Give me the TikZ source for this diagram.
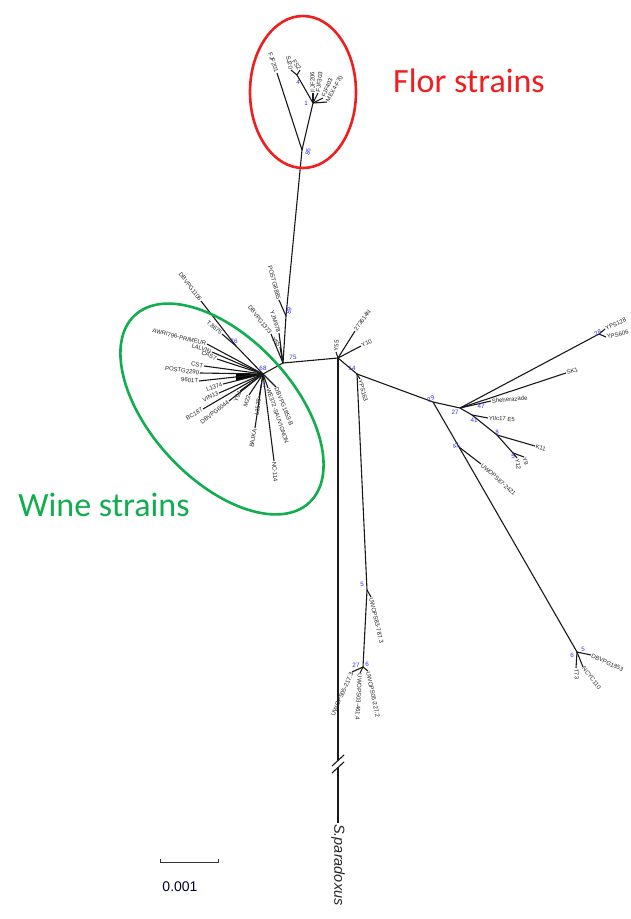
\documentclass[tikz,border=0pt]{standalone}
\usepackage{fontspec}
\usetikzlibrary{calc}
\setmainfont{Liberation Sans}
\newfontfamily\calib{Carlito}
\definecolor{florred}{HTML}{F01E1E}
\definecolor{winegreen}{HTML}{12AD4F}
\definecolor{bsblue}{HTML}{3030F0}
\newcommand\leaffont{\fontsize{6}{7}\selectfont}
\newcommand\bsfont{\fontsize{6.3}{7}\selectfont}
\tikzset{
  br/.style={line width=1.1pt, black!90},
  lf/.style={font=\leaffont, text=black!85, inner sep=0.7pt},
  bs/.style={font=\bsfont, text=bsblue, inner sep=0pt},
  clade/.style={line width=2.6pt},
}
% leaf pointing right: text reads outward from the tip
\newcommand\leafR[5]{\node[lf,anchor=west,rotate=#4] (#2) at #3 {#5};\draw[br] (#1) -- (#2.west);}
% leaf pointing left: text turned to stay upright, ends at the tip
\newcommand\leafL[5]{\node[lf,anchor=east,rotate=#4] (#2) at #3 {#5};\draw[br] (#1) -- (#2.east);}
\begin{document}
\begin{tikzpicture}[x=1pt,y=-1pt]
\useasboundingbox (0,0) rectangle (630,919);
\fill[white] (0,0) rectangle (630,919);

% internal nodes
\coordinate (C) at (338,358);
\coordinate (N75) at (283,363);
\coordinate (A89) at (286,316);
\coordinate (F0) at (302,150);
\coordinate (F1) at (313,103);
\coordinate (F2) at (297,75);
\coordinate (W0) at (263,374);
\coordinate (W1) at (236,346);
\coordinate (N14) at (357,374);
\coordinate (R5) at (367,590);
\coordinate (R6) at (363,667);
\coordinate (N29) at (433,402);
\coordinate (N27) at (460,408);
\coordinate (N41) at (472,415);
\coordinate (N8) at (497,435);
\coordinate (N5b) at (513,453);
\coordinate (N28) at (599,334);
\coordinate (N42) at (459,447);
\coordinate (N6) at (577,652);
\coordinate (Btop) at (338,761);
\coordinate (Bbot) at (338,767);

% backbone
\draw[br] (C) -- (N75);
\draw[br] (N75) -- (A89) -- (F0);
\draw[br] (F0) -- (F1) -- (F2);
\draw[br] (N75) -- (W0);
\draw[br] (W0) -- (W1);
\draw[br] (C) -- (N14) -- (R5) -- (R6);
\draw[br] (N14) -- (N29) -- (N27) -- (N41) -- (N8) -- (N5b);
\draw[br] (N27) -- (N28);
\draw[br] (N29) -- (N42) -- (N6);
\draw[br] (C) -- (Btop);

% flor clade
\leafL{F0}{f1}{(277,73)}{-71}{FJF201}
\leafL{F2}{f2}{(291,70)}{-79}{SJ20}
\leafL{F2}{f3}{(300,70)}{-58}{FS2}
\leafR{F1}{f4}{(313,93)}{92}{FJF206}
\leafR{F1}{f5}{(318,93)}{83}{FJF303}
\leafR{F1}{f6}{(323,98)}{68}{FJF403}
\leafR{F1}{f7}{(327,102)}{61}{MEX4-F70}

% strains near the wine clade
\leafL{A89}{m1}{(279,300)}{-75}{POSTG8885}
\leafL{N75}{m2}{(271,334)}{-52}{DBVPG1373}
\leafL{N75}{m3}{(279,333)}{-72}{YJM978}
\leafL{N75}{m4}{(280,347)}{-52}{Y55}

% wine clade
\fill[black] (W0) -- (236,374) -- (236,381) -- cycle;
\leafL{W1}{w1}{(201,301)}{-53}{DBVPG1106}
\leafL{W1}{w2}{(222,334)}{-40}{T.8675}
\leafL{W0}{w3}{(207,344)}{-14}{AWRI796-PRIMEUR}
\leafL{W0}{w4}{(212,352)}{-18}{LALVIN}
\leafL{W0}{w5}{(217,359)}{-24}{CAS7}
\leafL{W0}{w6}{(204,366)}{-12}{CST}
\leafL{W0}{w7}{(200,373)}{-8}{POSTG2290}
\leafL{W0}{w8}{(199,381)}{-5}{9601T}
\leafL{W0}{w9}{(223,384)}{20}{L1374}
\leafL{W0}{w10}{(219,393)}{24}{VIN13}
\leafL{W0}{w11}{(203,409)}{30}{BC187}
\leafL{W0}{w12}{(229,401)}{38}{DBVPG6044}
\leafL{W0}{w13}{(240,391)}{68}{Y9J}
\leafL{W0}{w14}{(249,395)}{72}{M22}
\leafL{W0}{w15}{(259,398)}{82}{L1528}
\leafL{W0}{w16}{(255,428)}{80}{BAJKA}
\leafR{W0}{w18}{(274,461)}{-85}{NC-114}
\leafR{W0}{w19}{(268,388)}{-71}{WE372-SAUVIGNON}
\leafR{W0}{w20}{(276,387)}{-68}{DBVPG1853-B}

% centre and lower clade
\leafR{C}{c1}{(355,331)}{55}{273614N}
\leafR{C}{c2}{(361,346)}{25}{Y10}
\leafR{C}{c3}{(336,352)}{85}{Y55}
\leafR{N14}{r1}{(360,379)}{-75}{YPS163}
\leafR{R5}{r2}{(371,597)}{-77}{UWOPS83-787.3}
\leafR{R6}{r3}{(360,673)}{-93}{UWOPS03-461.4}
\leafR{R6}{r4}{(368,671)}{-78}{UWOPS05-227.2}
\leafL{R6}{r5}{(352,672)}{66}{UWOPS05-217.3}

% right-hand clade
\leafR{N28}{e1}{(605,329)}{25}{YPS128}
\leafR{N28}{e2}{(606,337)}{12}{YPS606}
\leafR{N27}{e3}{(566,373)}{17}{SK1}
\leafR{N27}{e4}{(491,401)}{5}{Sheherazade}
\leafR{N41}{e5}{(488,418)}{-3}{YIIc17 E5}
\leafR{N8}{e6}{(535,446)}{-15}{K11}
\leafR{N5b}{e7}{(517,458)}{-80}{Y12}
\leafR{N5b}{e8}{(524,457)}{-70}{Y9}
\leafR{N42}{e9}{(481,464)}{-42}{UWOPS87-2421}
\leafR{N6}{e10}{(591,655)}{-25}{DBVPG1853}
\leafR{N6}{e11}{(583,667)}{-52}{NCYC110}
\leafR{N6}{e12}{(576,668)}{-85}{T73}

% outgroup with broken branch
\node[font=\fontsize{14.5}{15}\selectfont\itshape, text=black!85, inner sep=1pt,
      anchor=west, rotate=-90] (sp) at (338,823) {S.paradoxus};
\draw[br] (Bbot) -- (sp.west);
\draw[br] (332,766) -- (344,755);
\draw[br] (332,773) -- (344,762);

% bootstrap values
\node[bs,rotate=80] at (308,152) {86};
\node[bs] at (306,103) {1};
\node[bs] at (298,82) {4};
\node[bs,rotate=80] at (289,311) {89};
\node[bs] at (293,357) {75};
\node[bs] at (263,368) {68};
\node[bs] at (234,341) {76};
\node[bs] at (264,385) {1};
\node[bs] at (352,368) {14};
\node[bs] at (362,584) {5};
\node[bs] at (356,665) {27};
\node[bs] at (367,664) {6};
\node[bs,rotate=25] at (431,399) {29};
\node[bs] at (455,412) {27};
\node[bs] at (481,406) {47};
\node[bs] at (474,420) {41};
\node[bs] at (497,432) {8};
\node[bs] at (513,456) {5};
\node[bs,rotate=25] at (598,333) {28};
\node[bs,rotate=40] at (456,446) {42};
\node[bs] at (572,655) {6};
\node[bs] at (583,649) {5};

% clade outlines
\draw[clade, florred] (303,92) ellipse [x radius=53pt, y radius=76pt];
\draw[clade, winegreen, shift={(222,409)}, rotate=-47] (0,0) ellipse [x radius=128pt, y radius=71pt];
\node[font=\calib\fontsize{34}{36}\selectfont, text=florred, inner sep=0pt] (flor) at (469,81) {Flor strains};
\node[font=\calib\fontsize{34}{36}\selectfont, text=winegreen, inner sep=0pt] (wine) at (104,505) {Wine strains};

% scale bar
\coordinate (s1) at (160,862);
\coordinate (s2) at (218,862);
\draw[line width=0.9pt, black!80] ($(s1)+(0,-3)$) -- (s1) -- (s2) -- ($(s2)+(0,-3)$);
\node[font=\fontsize{14}{16}\selectfont, text=black!80!blue, inner sep=0pt] (sc) at (180,887) {0.001};
\end{tikzpicture}
\end{document}
